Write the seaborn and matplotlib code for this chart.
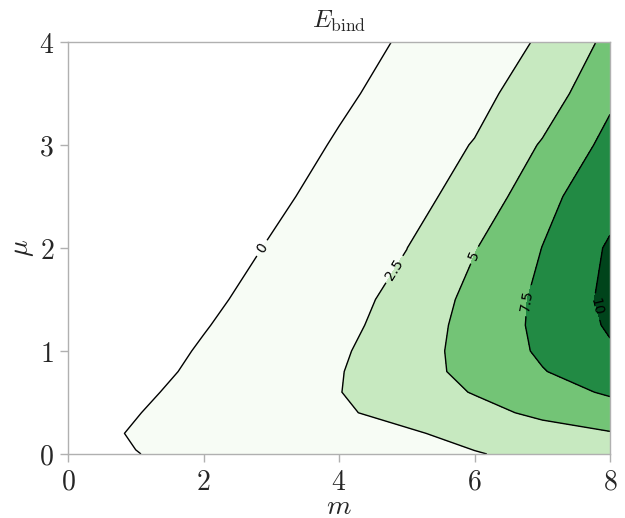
import numpy as np
import matplotlib
matplotlib.use("Agg")
import matplotlib.pyplot as plt
from matplotlib.ticker import FuncFormatter
import seaborn as sns

# grid: m along columns, mu along rows
m_grid = [0, 1, 2, 3, 4, 5, 6, 7, 8]
mu_grid = [0.0, 0.2, 0.4, 0.6, 0.8, 1.0, 1.25, 1.5, 2.0, 2.5, 3.0, 3.5, 4.0]
e_bind = [
  [-1.4, -0.05, 0.6, 1.0, 1.4, 1.8, 2.4, 2.95, 3.6],
  [-1.0, 0.2, 1.1, 1.6, 1.95, 2.3, 3.0, 3.9, 4.85],
  [-1.3, -0.1, 1.1, 1.8, 2.3, 3.0, 4.1, 5.6, 6.4],
  [-1.6, -0.45, 0.8, 1.7, 2.45, 3.6, 5.15, 6.5, 7.8],
  [-1.9, -0.75, 0.45, 1.5, 2.4, 3.7, 5.9, 7.4, 8.7],
  [-2.0, -0.95, 0.2, 1.3, 2.25, 3.6, 6.1, 7.8, 9.7],
  [-2.2, -1.2, -0.12, 1.0, 1.95, 3.4, 6.0, 8.0, 10.3],
  [-2.5, -1.5, -0.45, 0.75, 1.8, 3.1, 5.75, 8.0, 10.6],
  [-2.8, -1.9, -0.95, 0.15, 1.3, 2.48, 4.88, 7.53, 10.3],
  [-3.2, -2.3, -1.35, -0.4, 0.7, 1.85, 3.25, 6.8, 9.1],
  [-3.8, -2.9, -1.95, -0.95, 0.2, 1.4, 2.6, 5.2, 8.23],
  [-4.1, -3.3, -2.4, -1.4, -0.35, 0.75, 1.85, 3.65, 7.0],
  [-4.3, -3.5, -2.7, -1.8, -0.85, 0.25, 1.5, 2.7, 5.6],
]
levels = [0, 2.5, 5, 7.5, 10, 12.5]
line_levels = [0, 2.5, 5, 7.5, 10]

sns.set_theme(style="white")
plt.rcParams['mathtext.fontset'] = 'cm'
plt.rcParams['font.family'] = ['DejaVu Sans']

greens = sns.color_palette("Greens", as_cmap=True)
fill_colors = [greens(v) for v in [0.0, 0.25, 0.5, 0.75, 1.0]]

M, MU = np.meshgrid(m_grid, mu_grid)
Z = np.array(e_bind)

fig = plt.figure(figsize=(6.25, 5.18), dpi=100)
ax = fig.add_axes([0.1088, 0.1236, 0.8672, 0.7954])

ax.contourf(M, MU, Z, levels=levels, colors=fill_colors)
cs = ax.contour(M, MU, Z, levels=line_levels, colors="black", linewidths=1)
ax.clabel(cs, fontsize=10, fmt=lambda v: f"{v:g}",
          manual=[(2.86, 2.0), (4.8, 1.8), (6.0, 1.93), (6.78, 1.49), (7.8, 1.43)])

ax.set_xlim(0, 8)
ax.set_ylim(0, 4)
ax.set_xticks([0, 2, 4, 6, 8])
ax.set_yticks([0, 1, 2, 3, 4])
fmt = FuncFormatter(lambda v, p: f"${v:g}$")
ax.xaxis.set_major_formatter(fmt)
ax.yaxis.set_major_formatter(fmt)
ax.tick_params(axis="both", which="major", labelsize=20, length=6, width=1,
               color="#b0b0b0", direction="out", bottom=True, left=True, pad=4)
for s in ax.spines.values():
  s.set_color("#b0b0b0")
  s.set_linewidth(1)

ax.set_xlabel(r"$m$", fontsize=20, labelpad=-3)
ax.set_ylabel(r"$\mu$", fontsize=20, labelpad=2)
ax.set_title(r"$E_{\rm bind}$", fontsize=18, pad=10)

fig.savefig("out.png", dpi=100)
